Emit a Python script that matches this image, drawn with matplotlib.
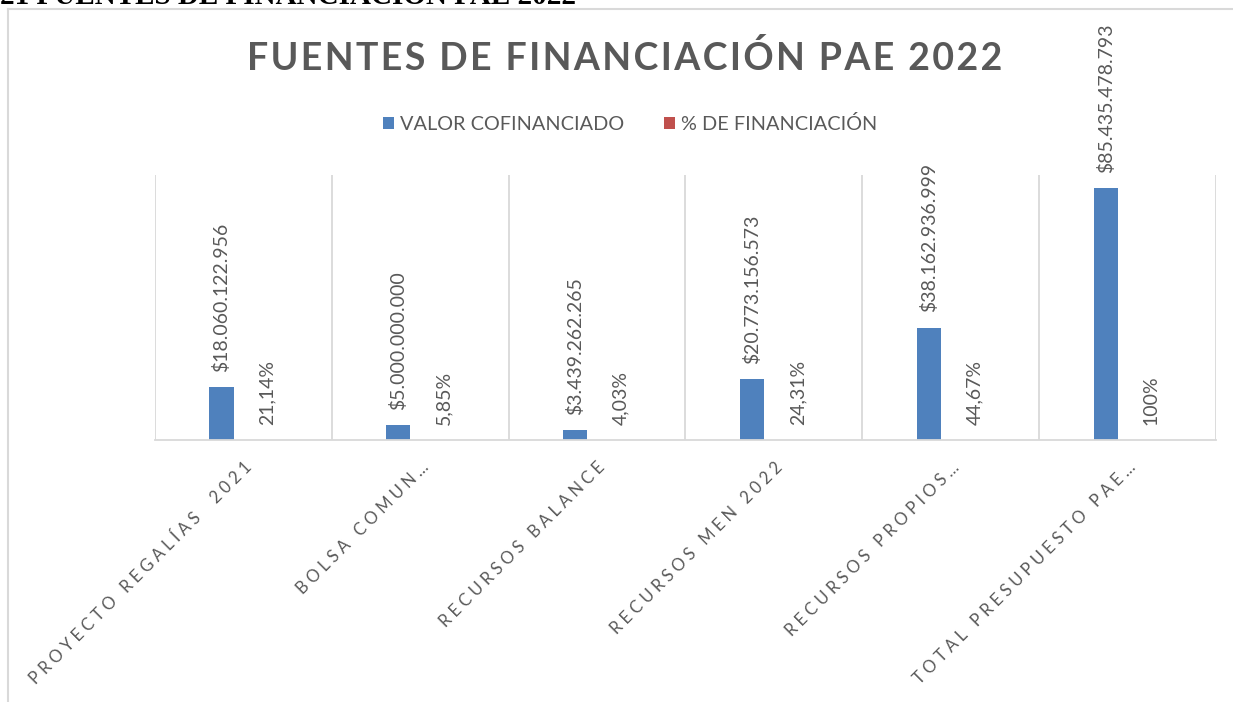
import matplotlib
matplotlib.use('Agg')
import matplotlib.pyplot as plt
from matplotlib.lines import Line2D
import numpy as np

plt.rcParams['font.family'] = ['Lato', 'DejaVu Sans']

# data
categorias = ['PROYECTO REGALÍAS  2021', 'BOLSA COMUN…', 'RECURSOS BALANCE',
              'RECURSOS MEN 2022', 'RECURSOS PROPIOS…', 'TOTAL PRESUPUESTO PAE…']
valor_cofinanciado = [18060122956, 5000000000, 3439262265, 20773156573, 38162936999, 85435478793]
pct_financiacion = [0.2114, 0.0585, 0.0403, 0.2431, 0.4467, 1.0]

azul = '#4f81bd'
rojo = '#c0504d'
gris_txt = '#595959'
gris_grid = '#d9d9d9'


def fmt_pesos(v):
    return '$' + f'{v:,}'.replace(',', '.')


def fmt_pct(p):
    s = f'{p * 100:.2f}'.rstrip('0').rstrip('.')
    return s.replace('.', ',') + '%'


def espaciado(s, sep='\u2009'):
    return sep.join(s)


fig = plt.figure(figsize=(12.33, 7.02), dpi=100)
ax = fig.add_axes([155 / 1233, 1 - 440 / 702, (1216 - 155) / 1233, (440 - 175) / 702])

x = np.arange(len(categorias))
w = 0.136
off = 0.124
b1 = ax.bar(x - off, valor_cofinanciado, w, color=azul, label='VALOR COFINANCIADO')
b2 = ax.bar(x + off, pct_financiacion, w, color=rojo, label='% DE FINANCIACIÓN')

ax.set_xlim(-0.5, len(categorias) - 0.5)
ax.set_ylim(0, 90e9)

for xi, v in zip(x, valor_cofinanciado):
    ax.annotate(fmt_pesos(v), (xi - off, v), xytext=(0, 11), textcoords='offset points',
                rotation=90, ha='center', va='bottom', fontsize=14, color=gris_txt)
for xi, p in zip(x, pct_financiacion):
    ax.annotate(fmt_pct(p), (xi + off + 0.01, 0), xytext=(0, 11), textcoords='offset points',
                rotation=90, ha='center', va='bottom', fontsize=14, color=gris_txt)

# separators between categories
for xs in np.arange(-0.5, len(categorias), 1.0):
    ax.axvline(xs, color=gris_grid, lw=1.3, zorder=0)

for s in ['top', 'right', 'left']:
    ax.spines[s].set_visible(False)
ax.spines['bottom'].set_color(gris_grid)
ax.spines['bottom'].set_linewidth(1.3)
ax.set_yticks([])
ax.set_xticks(x)
ax.set_xticklabels([espaciado(c, '\u2005') for c in categorias], rotation=45, ha='right',
                   rotation_mode='anchor', fontsize=12, color=gris_txt)
ax.tick_params(axis='x', length=0, pad=14)

fig.text(0.507, 1 - 58 / 702, espaciado('FUENTES DE FINANCIACIÓN PAE 2022', '\u200a'),
         ha='center', va='center', fontsize=27, fontweight='bold', color=gris_txt)

fig.legend(handles=[b1, b2], loc='center', bbox_to_anchor=(0.511, 1 - 124 / 702), ncol=2,
           frameon=False, fontsize=14.3, handlelength=0.55, handleheight=0.55,
           handletextpad=0.3, columnspacing=2.0, labelcolor=gris_txt)

# outer chart border and cut-off caption above it
fig.add_artist(Line2D([8 / 1233, 8 / 1233], [0, 1 - 9 / 702], color=gris_grid, lw=1.5))
fig.add_artist(Line2D([8 / 1233, 1], [1 - 9 / 702, 1 - 9 / 702], color=gris_grid, lw=1.5))
fig.text(0.0, 1 - 4 / 702, '21 FUENTES DE FINANCIACIÓN PAE 2022', ha='left', va='baseline',
         fontsize=21, fontweight='bold', family='Liberation Serif', color='black')

fig.savefig('out.png', dpi=100)
